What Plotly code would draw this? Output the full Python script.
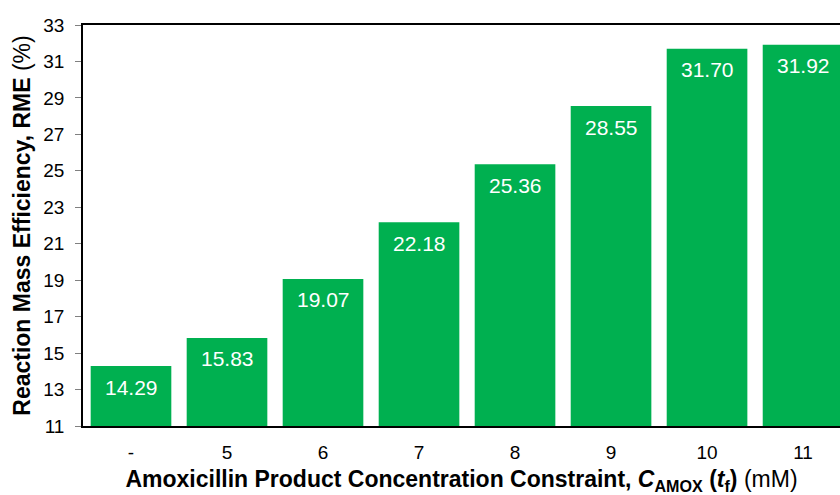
import plotly.graph_objects as go

categories = ["-", "5", "6", "7", "8", "9", "10", "11"]
rme_values = [14.29, 15.83, 19.07, 22.18, 25.36, 28.55, 31.70, 31.92]
y_ticks = list(range(11, 34, 2))

FONT = "Liberation Sans, Arial, sans-serif"
xpos = list(range(len(categories)))

fig = go.Figure(go.Bar(
    x=xpos,
    y=rme_values,
    marker=dict(color="#00B050", line=dict(width=0)),
    textposition="none",
    cliponaxis=True,
    hoverinfo="skip",
))

for xi, v in zip(xpos, rme_values):
    fig.add_annotation(
        x=xi, y=v, xref="x", yref="y",
        text=f"{v:.2f}", showarrow=False,
        yanchor="middle", yshift=-21,
        font=dict(family=FONT, size=21, color="white"),
    )

fig.update_layout(
    width=840, height=495,
    margin=dict(l=83, r=0, t=25, b=69, autoexpand=False),
    paper_bgcolor="white", plot_bgcolor="white",
    bargap=0.16,
    showlegend=False,
    font=dict(family=FONT, color="black"),
)

fig.update_xaxes(
    tickmode="array",
    tickvals=xpos,
    ticktext=categories,
    range=[-0.5, 7.385],
    automargin=False,
    showline=True, linecolor="black", linewidth=1.5, mirror=True,
    showgrid=False, ticks="", zeroline=False,
    tickfont=dict(family=FONT, size=19),
    ticklabelstandoff=8,
    title=dict(
        text="<b>Amoxicillin Product Concentration Constraint, <i>C</i><sub>AMOX</sub> (<i>t</i><sub>f</sub>)</b> (mM)",
        font=dict(family=FONT, size=23),
        standoff=12,
    ),
)

fig.update_yaxes(
    range=[11, 33],
    tickmode="array", tickvals=y_ticks,
    automargin=False,
    showline=True, linecolor="black", linewidth=1.5, mirror=True,
    showgrid=False, zeroline=False,
    ticks="outside", ticklen=6, tickcolor="#808080",
    tickfont=dict(family=FONT, size=19),
    ticklabelstandoff=7,
    title=dict(
        text="<b>Reaction Mass Efficiency, RME</b> (%)",
        font=dict(family=FONT, size=23),
        standoff=6,
    ),
)

fig.write_html(
    "out.html",
    config={"displayModeBar": False},
    post_script="document.body.style.margin='0';document.body.style.overflow='hidden';",
)
